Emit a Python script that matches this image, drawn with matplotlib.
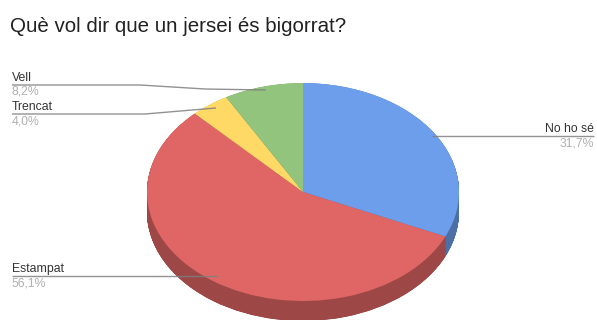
import matplotlib
matplotlib.use("Agg")
import matplotlib.pyplot as plt

plt.rcParams['font.family'] = ['Liberation Sans', 'DejaVu Sans']

categories = ['No ho sé', 'Estampat', 'Trencat', 'Vell']
values = [31.7, 56.1, 4.0, 8.2]
colors = ['#6d9eeb', '#e06666', '#ffd966', '#93c47d']
side_colors = ['#4c6fa5', '#9d4747', '#b39847', '#678957']

W, H = 597, 320
fig = plt.figure(figsize=(W / 100, H / 100), dpi=100)

# ellipse of the pie top in pixels
cx, cy, rx, ry = 303, 192, 156, 109
depth = 20

ax = fig.add_axes([(cx - rx) / W, 1 - (cy + ry) / H, 2 * rx / W, 2 * ry / H])

# side wall: stacked copies of the pie, shifted down
for d in range(depth * 4, 0, -1):
    ax.pie(values, colors=side_colors, startangle=90, counterclock=False,
           center=(0, -d / 4 / ry), radius=1, frame=True,
           wedgeprops={'linewidth': 0, 'clip_on': False})
ax.pie(values, colors=colors, startangle=90, counterclock=False,
       center=(0, 0), radius=1, frame=True,
       wedgeprops={'linewidth': 0, 'clip_on': False})
ax.set_aspect('auto')
ax.set_xlim(-1, 1)
ax.set_ylim(-1, 1)
ax.axis('off')

# overlay in pixel coordinates for title and leader lines
over = fig.add_axes([0, 0, 1, 1])
over.set_xlim(0, W)
over.set_ylim(H, 0)
over.axis('off')
over.patch.set_alpha(0)

over.text(10, 27, 'Què vol dir que un jersei és bigorrat?', fontsize=14.8,
          color='#212121', va='center', ha='left')

leaders = {
    'No ho sé': ([594, 432], [136, 136]),
    'Estampat': ([12, 170, 218], [276, 276, 276]),
    'Trencat': ([12, 145, 216], [114, 114, 108]),
    'Vell': ([12, 140, 205, 266], [85, 85, 89, 90]),
}

for name, val in zip(categories, values):
    xs, ys = leaders[name]
    over.plot(xs, ys, color='#7f7f7f', lw=1.0, solid_capstyle='butt', alpha=0.85)
    pct = f'{val:.1f}%'.replace('.', ',')
    tx = xs[0]
    ha = 'right' if tx > W / 2 else 'left'
    over.text(tx, ys[0] - 1, name, fontsize=8.8, color='#333333', ha=ha, va='bottom')
    over.text(tx, ys[0] + 1, pct, fontsize=8.8, color='#b0b0b0', ha=ha, va='top')

fig.savefig('out.png', dpi=100, facecolor='white')
